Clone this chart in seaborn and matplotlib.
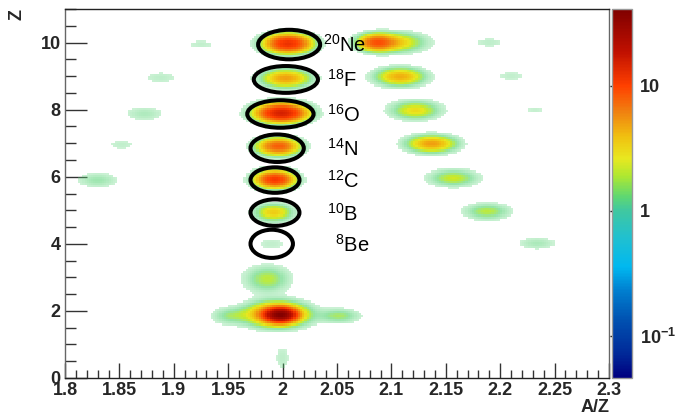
import numpy as np
import pandas as pd
import matplotlib
matplotlib.use("Agg")
import matplotlib.pyplot as plt
import seaborn as sns
from matplotlib.colors import LogNorm, LinearSegmentedColormap
from matplotlib.patches import Ellipse
from matplotlib.ticker import MultipleLocator, LogLocator, NullFormatter, FuncFormatter

# ---------------- data ----------------
# clusters of counts in the A/Z - Z identification plot
cluster_az = [2.005, 2.003, 1.999, 1.996, 1.993, 1.992, 1.990, 1.986, 1.998, 1.995, 1.952, 2.052, 2.000,
              2.086, 2.103, 2.108, 2.122, 2.137, 2.157, 2.188, 2.234,
              2.190, 2.210, 2.232,
              1.925, 1.888, 1.873, 1.852, 1.830]
cluster_z = [9.97, 8.93, 7.90, 6.90, 5.92, 4.93, 4.00, 2.95, 1.88, 1.90, 1.85, 1.85, 0.60,
             10.00, 10.00, 8.98, 7.98, 6.98, 5.96, 4.96, 4.02,
             10.00, 9.00, 8.00,
             9.95, 8.95, 7.88, 6.95, 5.90]
cluster_saz = [0.013, 0.014, 0.014, 0.012, 0.011, 0.011, 0.010, 0.013, 0.008, 0.017, 0.011, 0.012, 0.005,
               0.010, 0.017, 0.014, 0.014, 0.014, 0.014, 0.013, 0.012,
               0.011, 0.010, 0.007,
               0.010, 0.012, 0.012, 0.010, 0.012]
cluster_sz = [0.17, 0.17, 0.17, 0.16, 0.16, 0.16, 0.15, 0.25, 0.12, 0.22, 0.16, 0.14, 0.30,
              0.15, 0.18, 0.17, 0.17, 0.16, 0.16, 0.15, 0.13,
              0.10, 0.12, 0.10,
              0.10, 0.14, 0.15, 0.12, 0.15]
cluster_peak = [12.0, 5.0, 15.0, 8.0, 11.0, 3.5, 0.55, 2.0, 32.0, 8.0, 1.4, 1.7, 0.6,
                7.0, 3.5, 4.5, 3.0, 5.0, 2.3, 2.0, 0.9,
                0.6, 0.55, 0.5,
                0.55, 0.6, 0.85, 0.55, 1.1]

# marked isotopes (ellipses and labels)
iso_mass = ["20", "18", "16", "14", "12", "10", "8"]
iso_symbol = ["Ne", "F", "O", "N", "C", "B", "Be"]
ell_az = [2.006, 2.003, 1.998, 1.995, 1.993, 1.993, 1.990]
ell_z = [9.94, 8.90, 7.87, 6.85, 5.90, 4.93, 4.00]
ell_w = [0.057, 0.059, 0.061, 0.049, 0.045, 0.045, 0.039]
ell_h = [0.88, 0.80, 0.82, 0.82, 0.76, 0.79, 0.84]
label_az = [2.037, 2.0405, 2.0405, 2.0405, 2.0405, 2.0405, 2.048]

x_tick_vals = [1.8, 1.85, 1.9, 1.95, 2.0, 2.05, 2.1, 2.15, 2.2, 2.25, 2.3]
z_tick_vals = [0, 2, 4, 6, 8, 10]
cbar_ticks = [0.1, 1, 10]
cbar_labels = [r"$\mathbf{10^{-1}}$", "1", "10"]

# ---------------- style ----------------
sns.set_style("white")
plt.rcParams["font.family"] = ["Liberation Sans", "DejaVu Sans"]
plt.rcParams["mathtext.fontset"] = "custom"
plt.rcParams["mathtext.rm"] = "Liberation Sans"
plt.rcParams["mathtext.it"] = "Liberation Sans:italic"
plt.rcParams["mathtext.bf"] = "Liberation Sans:bold"

root_stops = [
    (0.000, "#000080"), (0.063, "#002898"), (0.154, "#0050b0"), (0.238, "#0080d0"),
    (0.300, "#00b8f0"), (0.379, "#20c0d0"), (0.454, "#40c8a0"), (0.493, "#60d870"),
    (0.549, "#b0e830"), (0.595, "#e8e820"), (0.655, "#f0c010"), (0.723, "#f08010"),
    (0.793, "#ff4000"), (0.885, "#c01000"), (1.000, "#800000"),
]
cmap = LinearSegmentedColormap.from_list("rootpal", root_stops)

W_PX, H_PX = 677, 416
fig = plt.figure(figsize=(W_PX / 100, H_PX / 100), dpi=100)
ax = fig.add_axes([65 / W_PX, 38 / H_PX, 544 / W_PX, 369 / H_PX])

# ---------------- histogram grid ----------------
x_edges = np.linspace(1.8, 2.3, 251)
z_edges = np.linspace(0.0, 11.0, 177)
xc = 0.5 * (x_edges[1:] + x_edges[:-1])
zc = 0.5 * (z_edges[1:] + z_edges[:-1])
X, Zg = np.meshgrid(xc, zc, indexing="ij")
raw = np.zeros_like(X)
for a, z, sa, sz, pk in zip(cluster_az, cluster_z, cluster_saz, cluster_sz, cluster_peak):
    raw += pk * np.exp(-0.5 * ((X - a) / sa) ** 2 - 0.5 * ((Zg - z) / sz) ** 2)
# filled bins hold at least one count
W = np.where(raw >= 0.35, np.maximum(raw, 1.25), 0.0)
# sparse (speckled) outskirts look paler
alpha = np.clip(0.3 + 0.7 * (raw - 0.35) / (2.2 - 0.35), 0.3, 1.0)

df = pd.DataFrame({"az": X.ravel(), "z": Zg.ravel(), "w": W.ravel()})
sns.histplot(data=df, x="az", y="z", weights="w", bins=[x_edges, z_edges],
             thresh=0.5, cmap=cmap, ax=ax, cbar=False)
mesh = ax.collections[0]
mesh.set_norm(LogNorm(vmin=0.046, vmax=41))
mesh.set_alpha(alpha.T)

# ---------------- ellipses and labels ----------------
for a, z, w, h, m, s, lx in zip(ell_az, ell_z, ell_w, ell_h, iso_mass, iso_symbol, label_az):
    ax.add_patch(Ellipse((a, z), w, h, fill=False, edgecolor="black", lw=2.9, zorder=5))
    ax.text(lx, z - 0.23, r"$^{%s}$%s" % (m, s), fontsize=14.5, ha="left", va="baseline",
            color="black", zorder=6)

# ---------------- axes ----------------
TICK_FS = 13
ax.set_xlim(1.8, 2.3)
ax.set_ylim(0, 11)
ax.set_xlabel("")
ax.set_ylabel("")
ax.set_xticks(x_tick_vals)
ax.set_yticks(z_tick_vals)
ax.xaxis.set_minor_locator(MultipleLocator(0.01))
ax.yaxis.set_minor_locator(MultipleLocator(0.5))
ax.xaxis.set_major_formatter(FuncFormatter(lambda v, p: "%g" % round(v, 3)))
ax.yaxis.set_major_formatter(FuncFormatter(lambda v, p: "%g" % v))
ax.tick_params(axis="x", which="major", direction="in", length=11, width=1, pad=3,
               labelsize=TICK_FS, bottom=True, top=False, color="#333333")
ax.tick_params(axis="x", which="minor", direction="in", length=6, width=1, bottom=True, top=False,
               color="#333333")
ax.tick_params(axis="y", which="major", direction="in", length=16, width=1, pad=3,
               labelsize=TICK_FS, left=True, right=False, color="#333333")
ax.tick_params(axis="y", which="minor", direction="in", length=8, width=1, left=True, right=False,
               color="#333333")
for lbl in ax.get_xticklabels() + ax.get_yticklabels():
    lbl.set_fontweight("bold")
for sp in ax.spines.values():
    sp.set_visible(True)
    sp.set_color("#222222")
    sp.set_linewidth(1.0)
ax.spines["left"].set_color("#666666")
ax.spines["right"].set_color("#666666")

fig.text(17 / W_PX, 1 - 14 / H_PX, "Z", rotation=90, fontweight="bold", fontsize=TICK_FS,
         ha="center", va="center")
fig.text(610 / W_PX, 1 - 407 / H_PX, "A/Z", fontweight="bold", fontsize=TICK_FS,
         ha="right", va="center")

# ---------------- colour bar ----------------
cax = fig.add_axes([612 / W_PX, 38 / H_PX, 20 / W_PX, 369 / H_PX])
cb = fig.colorbar(mesh, cax=cax)
cb.solids.set_alpha(1.0)
cb.set_ticks(cbar_ticks)
cb.set_ticklabels(cbar_labels)
cax.yaxis.set_minor_locator(LogLocator(base=10, subs=np.arange(2, 10)))
cax.yaxis.set_minor_formatter(NullFormatter())
cax.tick_params(which="major", direction="in", length=16, width=1, right=True, left=False,
                labelright=True, labelleft=False, pad=6, labelsize=TICK_FS, color="#111111")
cax.tick_params(which="minor", direction="in", length=8, width=1, right=True, left=False,
                color="#111111")
for lbl in cax.get_yticklabels():
    lbl.set_fontweight("bold")
cb.outline.set_edgecolor("#999999")
cb.outline.set_linewidth(1.0)

fig.savefig("out.png", dpi=100)
